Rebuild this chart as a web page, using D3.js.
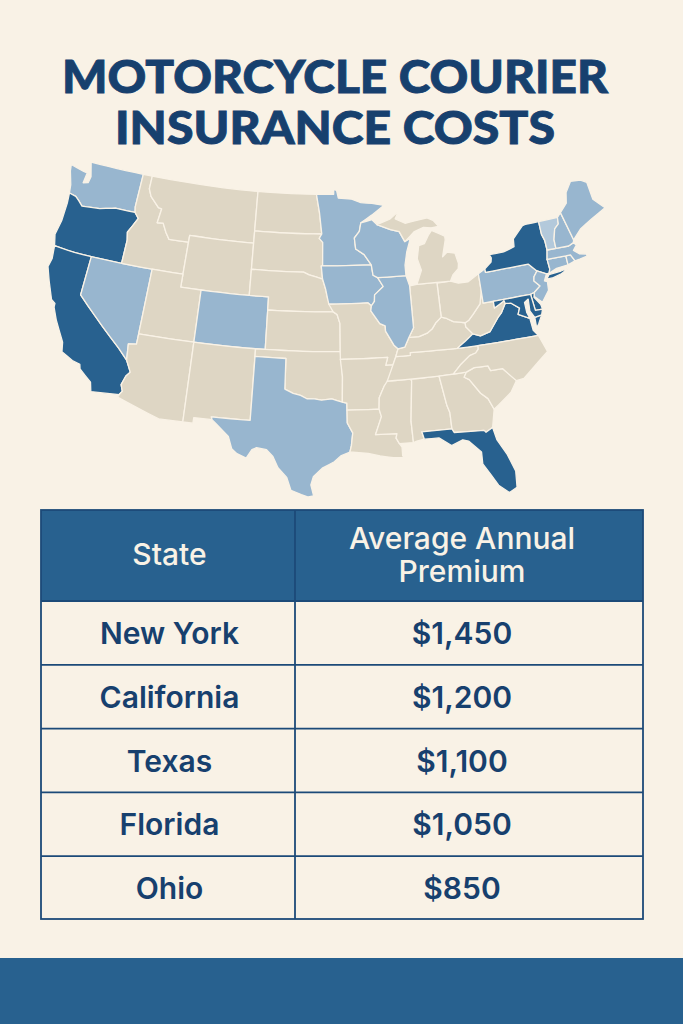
<!DOCTYPE html>
<html><head><meta charset="utf-8">
<script src="https://cdn.jsdelivr.net/npm/d3@7"></script>
<style>html,body{margin:0;padding:0;background:#f9f2e6}svg{display:block}</style>
</head><body><svg id="c" width="683" height="1024"></svg>
<script>
// ---- chart data ----
const titleLines = ["MOTORCYCLE COURIER", "INSURANCE COSTS"];
const headerLabels = [["State"], ["Average Annual", "Premium"]];
const tableStates = ["New York", "California", "Texas", "Florida", "Ohio"];
const tablePremiums = [1450, 1200, 1100, 1050, 850];
const highlightStates = ["OR","CA","NY","LI","VA","VAE","MD","DE","FL"];
const mediumStates = ["WA","NV","CO","TX","MN","IA","WI","IL","PA","NJ","ME","NH","MA","CT","RI"];
const paleStates = ["VT"];

// ---- state outlines, [lon, lat] ----
const WA=[[-124.7,48.4],[-123.2,48.15],[-122.8,48.1],[-122.9,47.3],[-122.4,47.4],[-122.3,47.9],[-122.75,49],[-117.03,49],[-117.04,46.42],[-116.92,46],[-118.98,46],[-119.3,45.93],[-120.5,45.7],[-121.2,45.65],[-122.3,45.55],[-122.8,45.9],[-123.2,46.15],[-124,46.25],[-124.1,46.9],[-124.6,47.9]];
const OR=[[-124,46.25],[-123.2,46.15],[-122.8,45.9],[-122.3,45.55],[-121.2,45.65],[-120.5,45.7],[-119.3,45.93],[-118.98,46],[-116.92,46],[-116.46,45.6],[-116.85,44.95],[-117.2,44.4],[-117.03,43.8],[-117.03,42],[-124.2,42],[-124.5,42.85],[-124.1,44],[-123.95,45.5]];
const CA=[[-124.2,42],[-120,42],[-120,39],[-114.63,35],[-114.14,34.3],[-114.45,34],[-114.72,33.4],[-114.52,33],[-114.72,32.72],[-117.12,32.53],[-117.3,33.1],[-118.4,33.75],[-118.5,34.03],[-119.2,34.15],[-120.5,34.45],[-120.65,35.15],[-121.9,36.6],[-122.5,37.5],[-122.5,37.8],[-123,38],[-123.8,39.3],[-124.35,40.3],[-124.1,41]];
const NV=[[-120,42],[-114.04,42],[-114.04,36.2],[-114.75,36.1],[-114.63,35],[-120,39]];
const ID=[[-117.03,49],[-116.05,49],[-116.05,48],[-115.7,47.45],[-114.7,46.7],[-114.35,46.65],[-114.5,45.55],[-113.9,45.6],[-113.45,44.95],[-113,44.45],[-111.05,44.48],[-111.05,42],[-117.03,42],[-117.03,43.8],[-117.2,44.4],[-116.85,44.95],[-116.46,45.6],[-116.92,46],[-117.04,46.42]];
const MT=[[-116.05,49],[-104.05,49],[-104.05,45],[-111.05,45],[-111.05,44.48],[-113,44.45],[-113.45,44.95],[-113.9,45.6],[-114.5,45.55],[-114.35,46.65],[-114.7,46.7],[-115.7,47.45],[-116.05,48]];
const WY=[[-111.05,45],[-104.05,45],[-104.05,41],[-111.05,41]];
const UT=[[-114.04,42],[-111.05,42],[-111.05,41],[-109.05,41],[-109.05,37],[-114.04,37]];
const CO=[[-109.05,41],[-102.05,41],[-102.05,37],[-109.05,37]];
const AZ=[[-114.04,37],[-109.05,37],[-109.05,31.33],[-111.07,31.33],[-114.81,32.5],[-114.72,32.72],[-114.52,33],[-114.72,33.4],[-114.45,34],[-114.14,34.3],[-114.63,35],[-114.75,36.1],[-114.04,36.2]];
const NM=[[-109.05,37],[-103,37],[-103.05,32],[-106.62,32],[-106.53,31.78],[-108.2,31.78],[-108.2,31.33],[-109.05,31.33]];
const ND=[[-104.05,49],[-97.23,49],[-96.85,47.6],[-96.56,45.94],[-104.05,45.94]];
const SD=[[-104.05,45.94],[-96.56,45.94],[-96.85,45.6],[-96.45,45.3],[-96.45,43.5],[-96.6,43.5],[-96.45,42.5],[-97.9,42.8],[-98.5,43],[-104.05,43]];
const NE=[[-104.05,43],[-98.5,43],[-97.9,42.8],[-96.45,42.5],[-96.1,41.7],[-95.9,41],[-95.31,40],[-102.05,40],[-102.05,41],[-104.05,41]];
const KS=[[-102.05,40],[-95.31,40],[-94.9,39.8],[-94.61,39.1],[-94.62,37],[-102.05,37]];
const OK=[[-103,37],[-94.62,37],[-94.43,35.4],[-94.48,33.64],[-95.5,33.9],[-96.5,33.8],[-97.2,33.9],[-97.9,33.9],[-98.5,34.15],[-99.2,34.3],[-100,34.56],[-100,36.5],[-103,36.5]];
const TX=[[-106.62,32],[-103.05,32],[-103,36.5],[-100,36.5],[-100,34.56],[-99.2,34.3],[-98.5,34.15],[-97.9,33.9],[-97.2,33.9],[-96.5,33.8],[-95.5,33.9],[-94.48,33.64],[-94.04,33.55],[-94.04,31.99],[-93.55,31.2],[-93.7,30.2],[-93.85,29.7],[-94.7,29.4],[-95.3,28.9],[-96.4,28.35],[-97.2,27.6],[-97.4,26.9],[-97.15,25.96],[-97.6,25.85],[-98.2,26.05],[-99.1,26.4],[-99.5,27.5],[-100.3,28.3],[-100.8,29.25],[-101.4,29.77],[-102.3,29.88],[-102.7,29.7],[-103.15,28.98],[-104,29.3],[-104.5,29.65],[-104.9,30.6],[-106,31.4],[-106.53,31.78]];
const MN=[[-97.23,49],[-95.15,49],[-95.15,49.38],[-94.8,49.3],[-94.6,48.7],[-93,48.6],[-92,48.3],[-90.8,48.2],[-89.5,48],[-90.9,47.3],[-92.1,46.75],[-92.3,46.1],[-92.85,45.6],[-92.75,44.75],[-91.9,44.3],[-91.22,43.5],[-96.45,43.5],[-96.45,45.3],[-96.85,45.6],[-96.56,45.94],[-96.85,47.6]];
const IA=[[-96.6,43.5],[-91.22,43.5],[-91.1,42.7],[-90.65,42.5],[-90.15,41.8],[-91.05,41.2],[-91.1,40.7],[-91.42,40.38],[-91.73,40.61],[-95.77,40.58],[-95.9,41],[-96.1,41.7],[-96.45,42.5]];
const MO=[[-95.77,40.58],[-91.73,40.61],[-91.42,40.38],[-91.5,40],[-90.7,39],[-90.2,38.8],[-90.2,38.4],[-89.5,37.3],[-89.15,37],[-89.4,36.5],[-89.7,36],[-90.37,36],[-90.15,36.5],[-94.62,36.5],[-94.62,37],[-94.61,39.1],[-94.9,39.8],[-95.31,40]];
const AR=[[-94.62,36.5],[-90.15,36.5],[-90.37,36],[-89.7,36],[-90.1,35.1],[-90.6,34.7],[-91.1,33.9],[-91.17,33],[-94.04,33],[-94.04,33.55],[-94.48,33.64],[-94.43,35.4]];
const LA=[[-94.04,33],[-91.17,33],[-91,32.4],[-91.6,31],[-89.75,31],[-89.85,30.65],[-89.6,30.2],[-89.4,29.9],[-89.4,29.2],[-89.2,29.05],[-90.2,29.1],[-91.3,29.3],[-92.3,29.55],[-93.85,29.7],[-93.7,30.2],[-93.55,31.2],[-94.04,31.99]];
const MS=[[-90.3,35],[-88.2,35],[-88.1,34.9],[-88.45,31.9],[-88.4,30.2],[-89.6,30.2],[-89.85,30.65],[-89.75,31],[-91.6,31],[-91,32.4],[-91.17,33],[-91.1,33.9],[-90.6,34.7]];
const AL=[[-88.2,35],[-85.6,35],[-85.18,32.87],[-85,32.3],[-85,31],[-87.6,31],[-87.45,30.4],[-88.1,30.3],[-88.4,30.2],[-88.45,31.9],[-88.1,34.9]];
const TN=[[-89.7,36],[-89.4,36.5],[-88.05,36.5],[-88.05,36.68],[-83.68,36.6],[-81.68,36.59],[-81.7,36.33],[-82,36.1],[-82.6,36],[-83.5,35.55],[-84.3,35],[-85.6,35],[-88.2,35],[-90.3,35]];
const KY=[[-89.4,36.5],[-89.15,37],[-88.5,37.1],[-88.05,37.8],[-87.1,37.8],[-86.3,38],[-85.8,38.27],[-85.4,38.7],[-84.8,39.1],[-84.3,38.95],[-83.7,38.65],[-82.6,38.45],[-82.6,38.15],[-82,37.53],[-83.68,36.6],[-88.05,36.68],[-88.05,36.5]];
const VA=[[-83.68,36.6],[-82,37.53],[-81.3,37.3],[-80.3,37.5],[-79.3,38.45],[-78.87,38.77],[-78.35,39.4],[-77.75,39.33],[-77.05,38.85],[-77.3,38.4],[-76.35,37.95],[-76.3,37],[-75.95,36.55],[-81.68,36.59]];
const VAE=[[-75.25,38.03],[-75.9,37.95],[-75.95,37.15],[-75.7,37.4]];
const WV=[[-82.6,38.45],[-82.6,38.15],[-82,37.53],[-81.3,37.3],[-80.3,37.5],[-79.3,38.45],[-78.87,38.77],[-78.35,39.4],[-77.75,39.33],[-78.4,39.62],[-79.48,39.2],[-79.48,39.72],[-80.52,39.72],[-80.52,40.64],[-80.85,39.7],[-81.7,39],[-82.2,38.6]];
const OH=[[-84.8,41.7],[-83.45,41.73],[-82.7,41.5],[-81.7,41.5],[-80.52,41.98],[-80.52,40.64],[-80.85,39.7],[-81.7,39],[-82.2,38.6],[-82.6,38.45],[-83.7,38.65],[-84.3,38.95],[-84.8,39.1]];
const IN=[[-87.53,41.7],[-86.8,41.76],[-84.8,41.76],[-84.8,39.1],[-85.4,38.7],[-85.8,38.27],[-86.3,38],[-87.1,37.8],[-88.05,37.8],[-87.53,38.5],[-87.53,39.35]];
const IL=[[-90.65,42.5],[-87.8,42.5],[-87.53,41.7],[-87.53,39.35],[-87.53,38.5],[-88.05,37.8],[-88.5,37.1],[-89.15,37],[-89.5,37.3],[-90.2,38.4],[-90.2,38.8],[-90.7,39],[-91.5,40],[-91.42,40.38],[-91.1,40.7],[-91.05,41.2],[-90.15,41.8]];
const WI=[[-92.1,46.75],[-90.9,46.95],[-90.4,46.55],[-89,46.1],[-88.1,45.9],[-87.6,45.1],[-87,45.3],[-87.5,44.3],[-87.8,43.3],[-87.8,42.5],[-90.65,42.5],[-91.1,42.7],[-91.22,43.5],[-91.9,44.3],[-92.75,44.75],[-92.85,45.6],[-92.3,46.1]];
const MIU=[[-90.4,46.55],[-89,46.9],[-88,47.45],[-88.4,46.9],[-87.4,46.5],[-85,46.75],[-84.4,46.5],[-83.9,46],[-84.7,45.95],[-85.5,46.05],[-86.5,45.8],[-87.6,45.1],[-88.1,45.9],[-89,46.1]];
const MIL=[[-86.8,41.76],[-84.8,41.76],[-83.45,41.73],[-83.1,42.2],[-82.5,42.6],[-82.4,43],[-82.6,43.8],[-83.4,43.95],[-83.9,43.65],[-83.4,44.9],[-83.4,45.2],[-84.7,45.75],[-85.1,45.4],[-85.6,44.8],[-86.2,44.7],[-86.5,43.7],[-86.2,42.8]];
const GA=[[-85.6,35],[-83.1,35],[-83.35,34.7],[-82.9,34.5],[-82,33.5],[-81.4,33],[-81,32.1],[-81.4,30.7],[-82.05,30.4],[-82.2,30.57],[-84.85,30.7],[-85,31],[-85,32.3],[-85.18,32.87]];
const FL=[[-87.6,31],[-85,31],[-84.85,30.7],[-82.2,30.57],[-82.05,30.4],[-81.4,30.7],[-81.2,29.7],[-80.5,28.4],[-80.05,26.9],[-80.2,25.5],[-80.9,25.15],[-81.7,25.9],[-82.2,26.9],[-82.75,27.9],[-82.7,28.9],[-83.7,29.9],[-84.2,30.05],[-85.2,29.7],[-86.2,30.4],[-87.45,30.4]];
const SC=[[-83.35,34.7],[-83.1,35],[-82.3,35.2],[-81,35.15],[-80.8,34.82],[-79.67,34.8],[-78.55,33.86],[-79.2,33.2],[-80.5,32.4],[-81,32.1],[-81.4,33],[-82,33.5],[-82.9,34.5]];
const NC=[[-84.3,35],[-83.5,35.55],[-82.6,36],[-82,36.1],[-81.7,36.33],[-81.68,36.59],[-75.95,36.55],[-75.5,35.25],[-76.5,34.7],[-77.9,33.9],[-78.55,33.86],[-79.67,34.8],[-80.8,34.82],[-81,35.15],[-82.3,35.2],[-83.1,35]];
const PA=[[-80.52,41.98],[-79.76,42.27],[-79.76,42],[-75.35,42],[-74.7,41.36],[-75.1,40.97],[-75.2,40.65],[-74.75,40.2],[-75.42,39.8],[-75.79,39.72],[-80.52,39.72]];
const NY=[[-79.76,42.27],[-79,42.7],[-78.9,43],[-79.05,43.27],[-77.5,43.27],[-76.3,43.5],[-76.2,44.1],[-75,44.95],[-74.7,45],[-73.35,45],[-73.4,44],[-73.25,43.5],[-73.27,42.75],[-73.5,42.05],[-73.5,41.3],[-73.65,41],[-73.9,41],[-74.7,41.36],[-75.35,42],[-79.76,42]];
const LI=[[-74,40.6],[-73.7,40.9],[-72.6,40.98],[-71.9,41.07],[-72.7,40.75],[-73.5,40.6]];
const NJ=[[-74.7,41.36],[-73.9,41],[-74.25,40.5],[-74,40.4],[-74.1,39.75],[-74.9,38.95],[-75.5,39.5],[-75.42,39.8],[-74.75,40.2],[-75.2,40.65],[-75.1,40.97]];
const DE=[[-75.79,39.72],[-75.42,39.8],[-75.55,39.45],[-75.1,38.8],[-75.05,38.45],[-75.7,38.46]];
const MD=[[-79.48,39.72],[-75.79,39.72],[-75.7,38.46],[-75.05,38.45],[-75.25,38.03],[-75.9,37.95],[-76.2,38.5],[-76.1,39.4],[-76.5,39.2],[-76.5,38.4],[-76.35,37.95],[-77.3,38.4],[-77.05,38.85],[-77.75,39.33],[-78.35,39.4],[-78.4,39.62],[-79.48,39.2]];
const CT=[[-73.5,42.05],[-71.8,42.02],[-71.85,41.32],[-72.9,41.25],[-73.65,41],[-73.5,41.3]];
const RI=[[-71.8,42.02],[-71.38,42.02],[-71.15,41.5],[-71.85,41.32]];
const MA=[[-73.5,42.05],[-73.27,42.75],[-71.3,42.7],[-70.8,42.87],[-70.6,42.65],[-71,42.3],[-70.6,41.95],[-70,41.8],[-70,41.65],[-70.7,41.55],[-71.15,41.5],[-71.38,42.02],[-71.8,42.02]];
const VT=[[-73.35,45],[-71.5,45],[-71.6,44.5],[-72.05,44.2],[-72.4,43.4],[-72.46,42.73],[-73.27,42.75],[-73.25,43.5],[-73.4,44]];
const NH=[[-71.5,45],[-71.1,45.3],[-70.7,43.07],[-70.8,42.87],[-71.3,42.7],[-72.46,42.73],[-72.4,43.4],[-72.05,44.2],[-71.6,44.5]];
const ME=[[-71.1,45.3],[-70.3,45.9],[-70,46.7],[-69.25,47.45],[-68.3,47.35],[-67.8,47.07],[-67.8,45.7],[-67,44.85],[-68.5,44.3],[-69.8,43.75],[-70.7,43.07]];
const outlines = Object.entries({WA,OR,CA,NV,ID,MT,WY,UT,CO,AZ,NM,ND,SD,NE,KS,OK,TX,MN,IA,MO,AR,LA,MS,AL,TN,KY,VA,VAE,WV,OH,IN,IL,WI,MIU,MIL,GA,FL,SC,NC,PA,NY,LI,NJ,DE,MD,CT,RI,MA,VT,NH,ME});

// ---- drawing ----
const INK="#17406e", BLUE="#28618f", LIGHT="#98b6cf", PALE="#b3c9db", TAN="#ded6c4", BG="#f9f2e6";
const svg=d3.select("#c");
svg.append("rect").attr("width",683).attr("height",1024).attr("fill",BG);

// title
const titleBaselines=[93,144], titleWidths=[546,440], titleCenters=[335,335];
svg.selectAll("text.title").data(titleLines).join("text").attr("class","title")
  .attr("x",(d,i)=>titleCenters[i]).attr("y",(d,i)=>titleBaselines[i]).attr("text-anchor","middle")
  .attr("font-family","Lato").attr("font-weight",900).attr("font-size",46.5)
  .attr("textLength",(d,i)=>titleWidths[i]).attr("lengthAdjust","spacingAndGlyphs")
  .attr("stroke",INK).attr("stroke-width",0.9)
  .attr("fill",INK).text(d=>d);

// map
function densify(ring){
  const out=[];
  ring.forEach((p,i)=>{
    const q=ring[(i+1)%ring.length];
    const n=Math.max(1,Math.ceil(Math.abs(q[0]-p[0])));
    for(let k=0;k<n;k++){const t=k/n;out.push([p[0]+(q[0]-p[0])*t,p[1]+(q[1]-p[1])*t]);}
  });
  return out;
}
const conic=d3.geoConicEqualArea().parallels([29.5,45.5]).rotate([96,0]).center([0,38]).scale(1000).translate([0,0]);
const projected=outlines.map(d=>densify(d[1]).map(conic));
const allXY=projected.flat();
const baseX=d3.scaleLinear().domain(d3.extent(allXY,d=>d[0])).range([48,605]);
const baseY=d3.scaleLinear().domain(d3.extent(allXY,d=>d[1])).range([162,497]);
// gentle warp so the outline follows the reference's hand-drawn proportions
const warpX=d3.scaleLinear().domain([48,78,195,320,360,470,525,555,605]).range([48,72,195,315,352,463,516,548,605]);
const warpY=d3.scaleLinear().domain([162,350,385,450,497]).range([162,350,392,455,497]);
const ringPath=d3.line().x(d=>warpX(baseX(d[0]))).y(d=>warpY(baseY(d[1]))).curve(d3.curveLinearClosed);
const tier=c=>highlightStates.includes(c)?BLUE:paleStates.includes(c)?PALE:mediumStates.includes(c)?LIGHT:TAN;
svg.append("g").selectAll("path").data(outlines).join("path")
  .attr("d",(d,i)=>ringPath(projected[i]))
  .attr("fill",d=>tier(d[0])).attr("stroke",BG).attr("stroke-width",1.3).attr("stroke-linejoin","round");

// table
const tableX=[41,295,643], headTop=510, headBottom=600, tableBottom=919;
const rowY=d3.scaleBand().domain(tableStates).range([601,920]);
svg.append("rect").attr("x",tableX[0]).attr("y",headTop).attr("width",tableX[2]-tableX[0]).attr("height",headBottom-headTop).attr("fill",BLUE);
const centers=[169.5,462];
headerLabels.forEach((lines,c)=>{
  svg.selectAll(null).data(lines).join("text")
    .attr("x",centers[c]).attr("y",(d,i)=>(lines.length>1?549:565)+i*33)
    .attr("text-anchor","middle").attr("font-family","Inter").attr("font-weight",500).attr("font-size",30)
    .attr("fill","#f9f2e6").text(d=>d);
});
const rows=svg.append("g").selectAll("g").data(tableStates).join("g");
rows.append("text").attr("x",centers[0]).attr("y",d=>rowY(d)+rowY.bandwidth()/2+11)
  .attr("text-anchor","middle").attr("font-family","Inter").attr("font-weight",600).attr("font-size",30)
  .attr("fill",INK).text(d=>d);
rows.append("text").attr("x",centers[1]).attr("y",d=>rowY(d)+rowY.bandwidth()/2+11)
  .attr("text-anchor","middle").attr("font-family","Inter").attr("font-weight",600).attr("font-size",30)
  .attr("fill",INK).text((d,i)=>d3.format("$,")(tablePremiums[i]));
const lines=svg.append("g").attr("stroke","#1c4a78").attr("stroke-width",1.8).attr("fill","none");
lines.append("rect").attr("x",tableX[0]).attr("y",headTop).attr("width",tableX[2]-tableX[0]).attr("height",tableBottom-headTop);
lines.append("line").attr("x1",tableX[1]).attr("x2",tableX[1]).attr("y1",headTop).attr("y2",tableBottom);
lines.selectAll("line.r").data(tableStates).join("line").attr("class","r")
  .attr("x1",tableX[0]).attr("x2",tableX[2]).attr("y1",d=>rowY(d)).attr("y2",d=>rowY(d));

// footer band
svg.append("rect").attr("x",0).attr("y",958).attr("width",683).attr("height",66).attr("fill",BLUE);
</script></body></html>
